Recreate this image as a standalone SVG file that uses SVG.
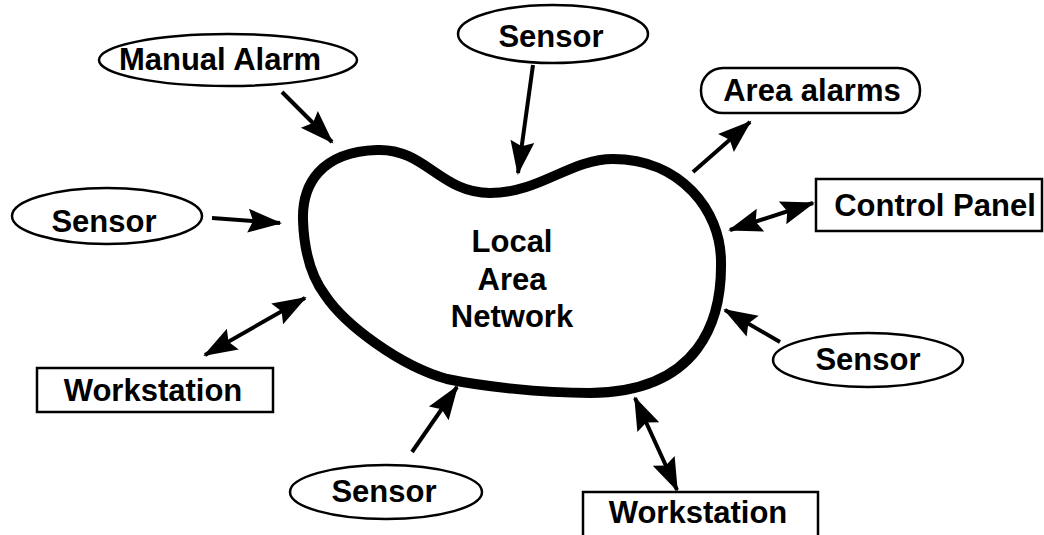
<svg xmlns="http://www.w3.org/2000/svg" width="1044" height="535" viewBox="0 0 1044 535">
<style>
  .lbl { font-family: "Liberation Sans", Arial, sans-serif; font-weight: bold; font-size: 31px; fill: #000; text-anchor: middle; }
  .shape { fill: #fff; stroke: #000; stroke-width: 2.5; }
  .conn { stroke: #000; stroke-width: 4; fill: none; }
  .blob { fill: #fff; stroke: #000; stroke-width: 10; stroke-linejoin: round; }
</style>
<defs>
  <marker id="ah" markerUnits="userSpaceOnUse" markerWidth="34" markerHeight="24" viewBox="0 0 34 24" refX="32" refY="12" orient="auto-start-reverse" overflow="visible">
    <path d="M0,0 L34,12 L0,24 L5,12 z" fill="#000"/>
  </marker>
</defs>
<rect width="1044" height="535" fill="#fff"/>

<g id="lan">
  <path class="blob" d="M303,220 C302,185 320,152 377,150 C425,148 440,193 490,193 C540,193 570,159 613,159 C680,159 721,210 721,262 C722,320 700,392 590,393 C540,393 480,386 447,379 C400,366 345,325 325,295 C310,275 304,250 303,220 Z"/>
  <text class="lbl" x="512" y="252">Local</text>
  <text class="lbl" x="512" y="290">Area</text>
  <text class="lbl" x="512" y="327">Network</text>
</g>

<g id="manual-alarm">
  <ellipse class="shape" cx="228" cy="60" rx="129" ry="26"/>
  <text class="lbl" x="220" y="70">Manual Alarm</text>
</g>

<g id="sensor-top">
  <ellipse class="shape" cx="553" cy="34" rx="95" ry="29"/>
  <text class="lbl" x="551" y="47">Sensor</text>
</g>

<g id="area-alarms">
  <rect class="shape" x="701" y="68" width="219" height="45" rx="22" ry="22"/>
  <text class="lbl" x="812" y="101">Area alarms</text>
</g>

<g id="control-panel">
  <rect class="shape" x="816" y="179" width="226" height="52"/>
  <text class="lbl" x="935" y="216">Control Panel</text>
</g>

<g id="sensor-left">
  <ellipse class="shape" cx="107" cy="216" rx="95" ry="28"/>
  <text class="lbl" x="104" y="232">Sensor</text>
</g>

<g id="workstation-left">
  <rect class="shape" x="37" y="368" width="236" height="44"/>
  <text class="lbl" x="153" y="401">Workstation</text>
</g>

<g id="sensor-right">
  <ellipse class="shape" cx="868" cy="360" rx="95" ry="27"/>
  <text class="lbl" x="868" y="370">Sensor</text>
</g>

<g id="sensor-bottom">
  <ellipse class="shape" cx="386" cy="492" rx="96" ry="27"/>
  <text class="lbl" x="384" y="502">Sensor</text>
</g>

<g id="workstation-bottom">
  <rect class="shape" x="583" y="492" width="235" height="50"/>
  <text class="lbl" x="698" y="523">Workstation</text>
</g>

<g id="connectors">
  <line class="conn" x1="282" y1="92" x2="332" y2="142" marker-end="url(#ah)"/>
  <line class="conn" x1="533" y1="65" x2="518" y2="173" marker-end="url(#ah)"/>
  <line class="conn" x1="693" y1="172" x2="750" y2="122" marker-end="url(#ah)"/>
  <line class="conn" x1="730" y1="230" x2="813" y2="203" marker-start="url(#ah)" marker-end="url(#ah)"/>
  <line class="conn" x1="212" y1="218" x2="280" y2="223" marker-end="url(#ah)"/>
  <line class="conn" x1="205" y1="355" x2="305" y2="298" marker-start="url(#ah)" marker-end="url(#ah)"/>
  <line class="conn" x1="780" y1="342" x2="725" y2="310" marker-end="url(#ah)"/>
  <line class="conn" x1="412" y1="452" x2="457" y2="387" marker-end="url(#ah)"/>
  <line class="conn" x1="635" y1="398" x2="677" y2="490" marker-start="url(#ah)" marker-end="url(#ah)"/>
</g>
</svg>
